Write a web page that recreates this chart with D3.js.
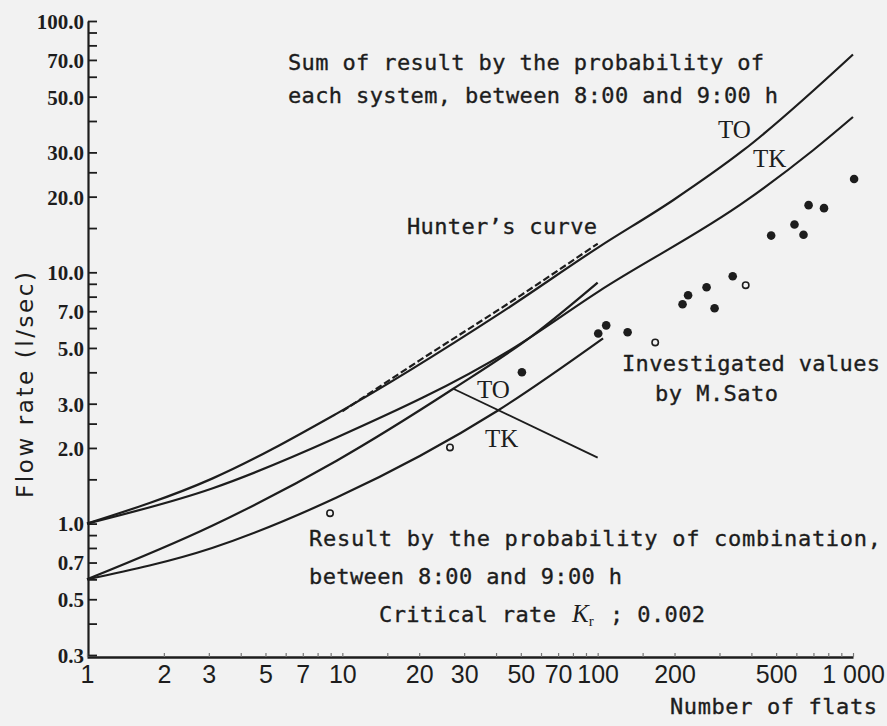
<!DOCTYPE html>
<html><head><meta charset="utf-8">
<script src="https://cdn.jsdelivr.net/npm/d3@7"></script>
<style>html,body{margin:0;padding:0;background:#f2f2f2;} svg{display:block;}</style>
</head><body>
<svg id="c" width="887" height="726"></svg>
<script>
// ---------- data ----------
const xTicks = [1,2,3,4,5,6,7,8,9,10,15,20,30,40,50,60,70,80,90,100,150,200,300,400,500,600,700,800,900,1000];
const xLabelValues = [1,2,3,5,7,10,20,30,50,70,100,200,500,1000];
const xLabels = ["1","2","3","5","7","10","20","30","50","70","100","200","500","1 000"];

const yTicks = [100,90,80,70,60,50,40,30,25,20,15,10,9,8,7,6,5,4,3,2.5,2,1.5,1,0.9,0.8,0.7,0.6,0.5,0.4,0.3];
const yLabelValues = [100,70,50,30,20,10,7,5,3,2,1,0.7,0.5,0.3];
const yLabels = ["100.0","70.0","50.0","30.0","20.0","10.0","7.0","5.0","3.0","2.0","1.0","0.7","0.5","0.3"];

// Sum of result by the probability of each system
const sumTO_x = [1, 3.09, 9.5, 41.4, 101, 198, 372, 1000];
const sumTO_y = [1.0, 1.51, 2.74, 6.86, 12.6, 19.4, 30.6, 73.6];
const sumTK_x = [1, 3.09, 9.5, 45.4, 101, 385, 698, 1000];
const sumTK_y = [1.0, 1.38, 2.2, 4.9, 8.4, 19.4, 30.6, 41.5];
// Result by the probability of combination
const combTO_x = [1, 3.09, 9.5, 27.2, 55.6, 100];
const combTO_y = [0.6, 0.98, 1.78, 3.44, 5.6, 9.1];
const combTK_x = [1, 3.09, 9.5, 40.7, 105];
const combTK_y = [0.6, 0.80, 1.27, 2.82, 5.46];
// Hunter's curve (dashed)
const hunter_x = [10, 20, 50, 100];
const hunter_y = [2.8, 4.45, 8.1, 13.0];
// label leader line (TO / TK)
const leader_x = [27.2, 100];
const leader_y = [3.44, 1.83];
// Investigated values by M.Sato
const filled_x = [50.5, 100.5, 108, 131, 215, 226, 267, 287, 338, 478, 590, 640, 670, 770, 1010];
const filled_y = [4.0, 5.71, 6.15, 5.77, 7.46, 8.1, 8.72, 7.19, 9.64, 14.0, 15.5, 14.1, 18.5, 18.0, 23.5];
const open_x = [8.95, 26.4, 168, 380];
const open_y = [1.1, 2.01, 5.26, 8.89];

// ---------- drawing ----------
const ink = "#1d1d1d";
const svg = d3.select("#c");
svg.append("rect").attr("width",887).attr("height",726).attr("fill","#f2f2f2");

const x = d3.scaleLog().domain([1,1000]).range([87,853]);
const y = d3.scaleLog().domain([0.3,100]).range([655,21]);

const zip = (a,b) => a.map((v,i)=>[v,b[i]]);
const line = d3.line().x(d=>x(d[0])).y(d=>y(d[1])).curve(d3.curveMonotoneX);

// y axis
const yAxis = d3.axisLeft(y).tickValues(yTicks).tickSize(-9).tickSizeOuter(0).tickPadding(4)
  .tickFormat(d => { const i = yLabelValues.indexOf(d); return i>=0 ? yLabels[i] : ""; });
const gy = svg.append("g").attr("transform","translate(88,0)").call(yAxis);
gy.select(".domain").attr("stroke",ink).attr("stroke-width",2.2);
gy.selectAll(".tick line").attr("stroke",ink).attr("stroke-width",1.8);
gy.selectAll(".tick text").attr("fill",ink).attr("font-family","Liberation Serif, serif")
  .attr("font-weight","bold").attr("font-size",21).attr("dy","0.35em");

// x axis
const xAxis = d3.axisBottom(x).tickValues(xTicks).tickSize(-4).tickSizeOuter(0).tickPadding(8)
  .tickFormat(d => { const i = xLabelValues.indexOf(d); return i>=0 ? xLabels[i] : ""; });
const gx = svg.append("g").attr("transform","translate(0,657)").call(xAxis);
gx.select(".domain").attr("stroke",ink).attr("stroke-width",2.4);
gx.selectAll(".tick line").attr("stroke","#777").attr("stroke-width",1.2);
gx.selectAll(".tick text").attr("fill",ink).attr("font-family","Liberation Sans Narrow, Liberation Sans, sans-serif")
  .attr("font-size",25);

// curves
const curves = [[sumTO_x,sumTO_y],[sumTK_x,sumTK_y],[combTO_x,combTO_y],[combTK_x,combTK_y]];
svg.append("g").selectAll("path").data(curves).join("path")
  .attr("d", c => line(zip(c[0],c[1])))
  .attr("fill","none").attr("stroke",ink).attr("stroke-width",2.2);
svg.append("path").attr("d", line(zip(hunter_x,hunter_y)))
  .attr("fill","none").attr("stroke",ink).attr("stroke-width",2.2).attr("stroke-dasharray","7,3");
svg.append("path").attr("d", d3.line().x(d=>x(d[0])).y(d=>y(d[1])).curve(d3.curveLinear)(zip(leader_x,leader_y)))
  .attr("fill","none").attr("stroke",ink).attr("stroke-width",1.8);

// points
svg.append("g").selectAll("circle").data(zip(filled_x,filled_y)).join("circle")
  .attr("cx",d=>x(d[0])).attr("cy",d=>y(d[1])).attr("r",4.3).attr("fill",ink);
svg.append("g").selectAll("circle").data(zip(open_x,open_y)).join("circle")
  .attr("cx",d=>x(d[0])).attr("cy",d=>y(d[1])).attr("r",3.2).attr("fill","none")
  .attr("stroke",ink).attr("stroke-width",1.6);

// typewriter-style annotations
function tw(str, x0, yb, len, size) {
  svg.append("text").attr("x",x0).attr("y",yb).attr("textLength",len).attr("lengthAdjust","spacing")
    .attr("font-family","DejaVu Sans Mono, monospace").attr("font-size",size||22)
    .attr("fill",ink).attr("stroke",ink).attr("stroke-width",0.35).text(str);
}
tw("Sum of result by the probability of", 288, 70, 476);
tw("each system, between 8:00 and 9:00 h", 288, 103, 490);
tw("Hunter\u2019s curve", 407, 234, 190);
tw("Investigated values", 622, 371, 258);
tw("by M.Sato", 655, 401, 123);
tw("Result by the probability of combination,", 309, 546, 572);
tw("between 8:00 and 9:00 h", 309, 584, 313);
tw("Critical rate", 379, 622, 177);
tw("; 0.002", 610, 622, 95);
tw("Number of flats", 670, 714, 207);

// K_r
const kr = svg.append("text").attr("x",572).attr("y",622).attr("fill",ink)
  .attr("font-family","Liberation Serif, serif").attr("font-size",25);
kr.append("tspan").attr("font-style","italic").text("K");
kr.append("tspan").attr("font-size",15).attr("dy",4).text("r");

// serif labels
function sl(str, x0, yb) {
  svg.append("text").attr("x",x0).attr("y",yb).attr("fill",ink)
    .attr("font-family","Liberation Serif, serif").attr("font-size",25).text(str);
}
sl("TO", 718, 138);
sl("TK", 753, 167);
sl("TO", 477, 398);
sl("TK", 485, 447);

// y axis title
svg.append("text").attr("transform","translate(33,385) rotate(-90)")
  .attr("text-anchor","middle").attr("fill",ink)
  .attr("font-family","DejaVu Sans, sans-serif").attr("font-size",23)
  .attr("textLength",226).attr("lengthAdjust","spacing").text("Flow rate (l/sec)");
</script>
</body></html>
